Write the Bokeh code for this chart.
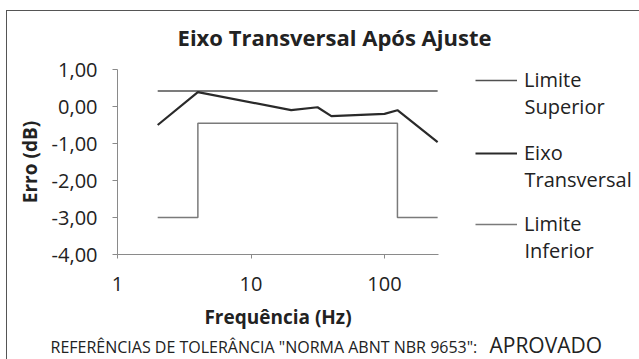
from bokeh.plotting import figure
from bokeh.models import FixedTicker, Legend, LegendItem, Label
from bokeh.embed import file_html
from bokeh.resources import INLINE

# ---- data ----
freq_eixo = [2, 4, 20, 31.5, 40, 100, 125, 250]
erro_eixo = [-0.50, 0.39, -0.10, -0.02, -0.26, -0.20, -0.10, -0.96]

freq_sup = [2, 250]
lim_sup = [0.42, 0.42]

freq_inf = [2, 4, 4, 125, 125, 250]
lim_inf = [-3.0, -3.0, -0.45, -0.45, -3.0, -3.0]

y_ticks = [-4, -3, -2, -1, 0, 1]
x_ticks = [1, 10, 100]

series_names = [("Limite", "Superior"), ("Eixo", "Transversal"), ("Limite", "Inferior")]
series_colors = ["#505050", "#2a2a2a", "#7a7a7a"]
series_widths = [1.5, 2.2, 1.5]

title_text = "Eixo Transversal Após Ajuste"
x_label = "Frequência (Hz)"
y_label = "Erro (dB)"
footer_text = 'REFERÊNCIAS DE TOLERÂNCIA "NORMA ABNT NBR 9653":'
footer_result = "APROVADO"

FONT = "Open Sans"
TXT = "#222222"
W, H = 639, 359

# ---- layout geometry (pixels) ----
X0, DEC = 117, 133.5      # px of 1 Hz, px per decade
Y_TOP, PPU = 69, 37.0     # px of value 1, px per unit


def X(px):
    return 10 ** ((px - X0) / DEC)


def Y(py):
    return 1 - (py - Y_TOP) / PPU


p = figure(width=W, height=H, x_axis_type="log",
           x_range=(X(0), X(W)), y_range=(Y(H), Y(0)),
           output_backend="svg", toolbar_location=None,
           min_border=0, min_border_left=0, min_border_right=0,
           min_border_top=0, min_border_bottom=0)
p.title.visible = False
p.outline_line_color = None
p.xgrid.visible = False
p.ygrid.visible = False
p.background_fill_color = None
p.border_fill_color = None
p.styles = {
    "background": ("linear-gradient(#555,#555) 6px 10px / 633px 1px no-repeat, "
                   "linear-gradient(#555,#555) 6px 10px / 1px 349px no-repeat, white"),
}

# lines
r_sup = p.line(freq_sup, lim_sup, line_color=series_colors[0], line_width=series_widths[0])
r_eixo = p.line(freq_eixo, erro_eixo, line_color=series_colors[1], line_width=series_widths[1])
r_inf = p.line(freq_inf, lim_inf, line_color=series_colors[2], line_width=series_widths[2])

# axes (drawn at fixed locations inside the full-canvas frame)
for ax in (p.xaxis[0], p.yaxis[0]):
    ax.axis_line_color = "#8a8a8a"
    ax.major_tick_line_color = "#8a8a8a"
    ax.minor_tick_line_color = None
    ax.major_tick_in = 0
    ax.major_label_text_font = FONT
    ax.major_label_text_font_size = "20px"
    ax.major_label_text_color = TXT
    ax.axis_label_text_font = FONT
    ax.axis_label_text_font_style = "bold"
    ax.axis_label_text_font_size = "19px"
    ax.axis_label_text_color = TXT

p.yaxis.fixed_location = x_ticks[0]
p.yaxis.bounds = (min(y_ticks), max(y_ticks))
p.yaxis.ticker = FixedTicker(ticks=y_ticks)
p.yaxis.major_label_overrides = {t: f"{t:.2f}".replace(".", ",") for t in y_ticks}
p.yaxis.major_tick_out = 5
p.yaxis.major_label_standoff = 15
p.yaxis.axis_label = y_label
p.yaxis.axis_label_standoff = 6

p.xaxis.fixed_location = min(y_ticks)
p.xaxis.bounds = (1, 255)
p.xaxis.ticker = FixedTicker(ticks=x_ticks)
p.xaxis.major_label_overrides = {t: str(t) for t in x_ticks}
p.xaxis.major_tick_out = 4
p.xaxis.major_label_standoff = 18
p.xaxis.axis_label = x_label
p.xaxis.axis_label_standoff = 10

# title
p.add_layout(Label(x=X(334), y=Y(36.5), text=title_text, text_font=FONT,
                   text_font_style="bold", text_font_size="22px", text_color=TXT,
                   text_align="center", text_baseline="middle"))

# legend: one Legend per series (first word next to the swatch), second word as label
leg_line_y = [80, 153, 224]
for (w1, w2), r, ly in zip(series_names, [r_sup, r_eixo, r_inf], leg_line_y):
    lg = Legend(items=[LegendItem(label=w1, renderers=[r])],
                location=(475, H - ly - 13), orientation="vertical",
                margin=0, padding=0, spacing=0,
                glyph_width=42, glyph_height=26, label_height=26, label_standoff=7,
                label_text_font=FONT, label_text_font_size="20px",
                label_text_color=TXT, border_line_color=None,
                background_fill_alpha=0)
    p.add_layout(lg, "center")
    p.add_layout(Label(x=X(524), y=Y(ly + 26), text=w2, text_font=FONT,
                       text_font_size="20px", text_color=TXT, text_baseline="middle"))

# footer
p.add_layout(Label(x=X(50), y=Y(346.5), text=footer_text, text_font=FONT,
                   text_font_size="16px", text_color=TXT, text_baseline="middle"))
p.add_layout(Label(x=X(489), y=Y(344.5), text=footer_result, text_font=FONT,
                   text_font_size="21px", text_color=TXT, text_baseline="middle"))

open("out.html", "w").write(file_html(p, INLINE))
